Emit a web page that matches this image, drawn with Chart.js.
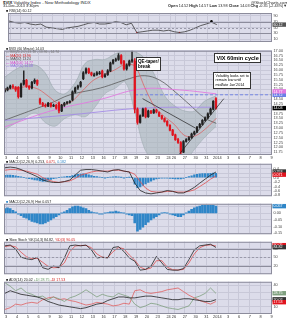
<!DOCTYPE html>
<html>
<head>
<meta charset="utf-8">
<script src="https://cdn.jsdelivr.net/npm/chart.js@4.4.1/dist/chart.umd.min.js"></script>
<style>
  body { margin: 0; background: #fff; font-family: "Liberation Sans", Arial, sans-serif; }
  #wrap { position: relative; width: 287px; height: 320px; overflow: hidden; }
  canvas { position: absolute; left: 4px; }
  .t { position: absolute; white-space: nowrap; line-height: 1; font-size: 4px; color: #222; }
  .box { position: absolute; background: #fff; border: 0.6px solid #333; font-weight: bold; color: #000; line-height: 1.2; white-space: nowrap; }
</style>
</head>
<body>
<div id="wrap">
  <canvas id="rsi" width="283" height="37" style="top:9px"></canvas>
  <canvas id="price" width="283" height="114" style="top:47px"></canvas>
  <canvas id="macd" width="283" height="40" style="top:160px"></canvas>
  <canvas id="hist" width="283" height="38" style="top:200px"></canvas>
  <canvas id="stoch" width="283" height="40" style="top:238px"></canvas>
  <canvas id="adx" width="283" height="42" style="top:278px"></canvas>

  <div class="t" style="left:3px;top:1px;font-size:4.3px"><b>$VIX</b> Volatility Index - New Methodology  INDX</div>
  <div class="t" style="left:251px;top:1px;font-size:4.3px">@StockCharts.com</div>
  <div class="t" style="left:3px;top:4.8px;font-size:3.8px">31-Dec-2013 3:30pm</div>
  <div class="t" style="left:168px;top:4.8px;font-size:3.8px"><b>Open</b> 14.52 <b>High</b> 14.57 <b>Low</b> 13.98 <b>Close</b> 14.03 <b>Chg</b> -0.35 (-2.43%)&#9660;</div>

  <div class="t" style="left:6px;top:10px;font-size:3.6px">&#9632; RSI(14) 60.12</div>

  <div class="t" style="left:6px;top:48px;font-size:3.4px">&#9632; $VIX (60 Minute) 14.03</div>
  <div class="t" style="left:6px;top:51.4px;font-size:3.4px;color:#777">&#8212; BB(20,2.0) 13.18 - 13.96 - 14.74</div>
  <div class="t" style="left:6px;top:54.8px;font-size:3.4px;color:#d02020">&#8212; MA(20) 13.96</div>
  <div class="t" style="left:6px;top:58.2px;font-size:3.4px;color:#444">&#8212; MA(50) 13.24</div>
  <div class="t" style="left:6px;top:61.6px;font-size:3.4px;color:#d040c8">&#8212; MA(100) 14.77</div>
  <div class="t" style="left:6px;top:65px;font-size:3.4px;color:#8a6ae0">&#8212; MA(200) 14.08</div>

  <div class="box" style="left:136px;top:57px;font-size:4.6px;padding:0.5px 1px">QE-taper/<br>break</div>
  <div class="box" style="left:214px;top:53px;font-size:5.6px;padding:0.5px 1.5px">VIX 60min cycle</div>
  <div class="box" style="left:213px;top:72px;font-size:3.7px;padding:1px 1.5px;font-weight:normal">Volatility looks set to<br>remain low until<br>mid/late Jan'2014</div>

  <div class="t" style="left:6px;top:161px;font-size:3.6px">&#9632; MACD(12,26,9) 0.253, <span style="color:#d02020">0.071</span>, <span style="color:#2f86c8">0.182</span></div>
  <div class="t" style="left:6px;top:201px;font-size:3.6px"><span style="color:#2f86c8">&#9632;</span> MACD(12,26,9) Hist 0.057</div>
  <div class="t" style="left:6px;top:239px;font-size:3.6px">&#9632; Slow Stoch %K(14,3) 84.82, <span style="color:#d02020">%D(3) 90.05</span></div>
  <div class="t" style="left:6px;top:279px;font-size:3.6px">&#9632; ADX(14) 20.02 <span style="color:#5f8f5f">+DI 28.75</span> <span style="color:#d02020">-DI 17.53</span></div>
</div>

<script>
// day grid of the 60 min chart (Dec 2013 - Jan 2014)
const dayLabels = ['3','4','5','6','9','10','11','12','13','16','17','18','19','20','23','24','26','27','30','31','2014','3','6','7','8','9'];
const dayStart = [0,1,2,3,4,5,6,7,8,9,10,11,12,13,14,15,15.5,16.5,17.5,18.5,19.5,20.5,21.5,22.5,23.5,24.5];
const barsPerDay = [4,4,4,4,4,4,4,4,4,4,4,4,4,4,4,2,4,4,4,4];

// candles
const open = [14.90, 14.97,15.07,15.17,15.12, 15.10,14.62,15.27,15.47, 15.17,15.07,15.37,15.47,
  14.50,14.28,14.18,14.13, 14.28,14.13,14.18,14.30, 13.88,14.18,14.28,14.33, 14.45,14.87,15.07,15.17,
  15.55,15.86,16.06,15.86, 15.70,15.76,15.82,15.95, 15.66,15.76,15.96,16.36, 16.50,16.55,16.75,16.45,
  16.06,16.26,16.46,16.46, 13.98,13.29,13.63,14.00, 13.58,13.88,13.78,13.93, 13.80,13.63,13.49,13.34,
  13.14,12.89, 12.64,12.40,12.25,11.75, 12.30,12.40,12.50,12.69, 12.79,13.04,13.19,13.39, 13.53,13.73,13.98,14.52];
const high = [15.05, 15.12,15.22,15.25,15.15, 15.15,15.32,15.96,15.52, 15.20,15.42,15.55,15.50,
  14.55,14.33,14.25,14.33, 14.30,14.24,14.22,14.35, 14.23,14.33,14.38,14.42, 14.92,15.12,15.22,15.42,
  15.92,16.12,16.10,15.90, 15.84,15.92,15.94,16.00, 15.82,16.02,16.42,16.56, 16.62,16.85,16.80,16.50,
  16.32,16.52,17.00,16.60, 14.05,13.68,14.03,14.05, 13.93,13.92,13.98,13.96, 13.84,13.66,13.52,13.38,
  13.18,12.93, 12.68,12.46,12.30,12.35, 12.45,12.55,12.74,12.84, 13.09,13.24,13.44,13.58, 13.78,14.03,14.42,14.57];
const low = [14.85, 14.92,15.02,15.05,14.90, 14.55,14.58,15.22,15.10, 15.00,15.02,15.30,15.20,
  14.22,14.12,14.08,14.10, 14.08,14.10,13.98,13.78, 13.85,14.12,14.24,14.28, 14.40,14.82,15.00,15.12,
  15.50,15.80,15.82,15.70, 15.68,15.72,15.78,15.60, 15.62,15.72,15.92,16.30, 16.45,16.50,16.30,16.00,
  16.00,16.20,16.40,13.78, 13.20,13.25,13.60,13.52, 13.55,13.74,13.75,13.78, 13.58,13.44,13.30,13.10,
  12.85,12.60, 12.36,12.20,11.65,11.72, 12.26,12.35,12.46,12.65, 12.76,13.00,13.15,13.35, 13.48,13.70,13.94,13.98];
const close = [14.97, 15.07,15.17,15.12,14.97, 14.62,15.27,15.47,15.17, 15.07,15.37,15.47,15.27,
  14.28,14.18,14.13,14.28, 14.13,14.18,14.03,13.88, 14.18,14.28,14.33,14.38, 14.87,15.07,15.17,15.37,
  15.86,16.06,15.86,15.76, 15.76,15.86,15.86,15.66, 15.76,15.96,16.36,16.50, 16.55,16.75,16.36,16.06,
  16.26,16.46,16.55,13.98, 13.29,13.63,13.98,13.58, 13.88,13.78,13.93,13.83, 13.63,13.49,13.34,13.14,
  12.89,12.64, 12.40,12.25,11.75,12.30, 12.40,12.50,12.69,12.79, 13.04,13.19,13.39,13.53, 13.73,13.98,14.38,14.03];

// overlays on the price panel (x in trading days)
const bbX = [-0.2,1.3,2.7,3.6,4.5,5.4,6.4,7.3,8.2,9.1,10.1,11,11.9,12.8,13.7,14.7,15.6,16.5,17.4,18.3,19.4];
const bbUpper = [15.61,16.16,16.26,15.86,14.97,14.77,15.37,16.36,16.55,16.55,16.85,17.0,16.95,16.6,15.76,14.62,14.13,13.88,13.88,14.38,14.67];
const bbLower = [12.89,13.39,13.78,13.29,13.09,13.49,13.68,13.58,14.08,14.77,15.07,15.37,13.78,11.9,11.4,11.4,11.3,11.3,11.9,12.5,13.09];
const ma20X = [-0.2,1,2,3,4,5,6,7,8,9,10,11,11.9,12.8,13.7,14.6,15.5,16.5,17.5,18.5,19.4];
const ma20 = [15.0,15.05,15.15,15.0,14.6,14.2,14.35,14.9,15.45,15.75,16.0,16.3,16.2,15.1,14.1,13.6,13.2,12.6,12.6,13.0,13.5];
const ma50X = [-0.2,2.9,4.1,5.9,8.7,11.4,12.8,14.2,15.6,17,18.3,19.4];
const ma50 = [13.39,14.03,14.28,14.72,15.07,15.56,15.71,15.47,14.87,14.18,13.53,13.24];
const ma100X = [-0.2,4.1,8.7,12.4,16.0,19.4];
const ma100 = [13.04,13.88,14.48,15.02,14.97,14.77];
const ma200X = [-0.2,5.9,12.6,19.4];
const ma200 = [13.39,13.68,14.03,14.08];
const resistX = [11.9,24.55], resist = [14.72,14.72];
const downTrendX = [12.6,17.5], downTrend = [14.52,12.99];
const upTrendX = [16.0,20.1], upTrend = [11.65,14.52];

// indicators (every second bar for lines, every bar for histograms)
const rsi = [72.7,67.3,64.7,67.3,62,59.3,62,51.3,48.7,46,43.3,48.7,51.3,54,59.3,64.7,67.3,62,62,64.7,
  70,67.3,59.3,64.7,32.7,35.3,38,40.7,40.7,38,40.7,35.3,32.7,35.3,40.7,48.7,56.7,62,68,60];
const macd = [0.44,0.47,0.44,0.36,0.25,0.15,0.04,-0.11,-0.18,-0.22,-0.22,-0.18,-0.11,0.11,0.33,0.36,0.36,0.33,0.29,0.25,
  0.33,0.36,0.29,0.25,-0.25,-0.58,-0.69,-0.73,-0.69,-0.65,-0.58,-0.62,-0.69,-0.69,-0.58,-0.44,-0.25,-0.07,0.11,0.25];
const signal = [0.33,0.36,0.36,0.33,0.29,0.22,0.15,0.0,-0.11,-0.18,-0.22,-0.18,-0.15,-0.04,0.11,0.18,0.25,0.29,0.29,0.29,
  0.33,0.33,0.29,0.25,0.15,-0.18,-0.47,-0.62,-0.65,-0.65,-0.62,-0.62,-0.65,-0.65,-0.62,-0.55,-0.40,-0.25,-0.07,0.07];
const macdHist = [0.10,0.11,0.11,0.10,0.08, 0.05,0.03,0.0,-0.02, -0.05,-0.07,-0.10,-0.12, -0.15,-0.17,-0.16,-0.12,
  -0.08,-0.05,-0.02,0.0, 0.02,0.03,0.05,0.06, 0.09,0.12,0.15,0.16, 0.17,0.15,0.12,0.09, 0.06,0.04,0.02,0.0,
  -0.01,0.0,0.02,0.03, 0.04,0.03,0.01,-0.01, 0.0,0.01,0.0,-0.30, -0.45,-0.42,-0.35,-0.28, -0.22,-0.16,-0.10,-0.06,
  -0.04,-0.02,-0.02,-0.03, -0.04,-0.05, -0.06,-0.06,-0.06,-0.04, 0.0,0.04,0.08,0.12, 0.15,0.17,0.18,0.18, 0.18,0.19,0.20,0.19];
const hist2 = [0.037,0.043,0.037,0.024,0.012, -0.006,-0.018,-0.030,-0.037, -0.049,-0.061,-0.067,-0.073,
  -0.079,-0.079,-0.073,-0.061, -0.049,-0.037,-0.024,-0.012, 0.001,0.012,0.024,0.037, 0.049,0.055,0.055,0.049,
  0.043,0.037,0.024,0.012, 0.006,0.002,-0.006,-0.006, 0.001,0.006,0.012,0.012, 0.018,0.012,0.006,0.001,
  -0.006,-0.012,-0.018,-0.073, -0.134,-0.122,-0.104,-0.085, -0.067,-0.049,-0.037,-0.024, -0.012,0.001,0.006,0.001,
  -0.006,-0.012, -0.018,-0.024,-0.024,-0.012, 0.001,0.018,0.030,0.043, 0.049,0.055,0.061,0.061, 0.061,0.061,0.061,0.055];
const stochK = [90.6,93.4,79,50.3,44.6,41.7,50.3,13,7.2,18.7,13,47.5,90.6,93.4,90.6,93.4,76.2,47.5,50.3,47.5,
  84.8,87.7,70.5,47.5,36,4.4,7.2,18.7,53.2,30.2,7.2,4.4,4.4,10.1,41.7,76.2,90.6,93.4,96.3,84.8];
const stochD = [88,91,87,68,52,45,46,32,18,13,14,30,70,90,92,92,84,62,50,49,
  70,85,80,58,40,15,7,12,38,38,15,6,5,7,30,62,84,92,94,90];
const adx = [28.8,32.5,30,27.5,26.3,25,23.8,21.3,17.5,15,12.5,11.3,10,8.8,7.5,8.8,11.3,13.8,15,18.8,
  21.3,23.8,23.8,22.5,22.5,23.8,25,25,23.8,22.5,21.3,20,20,21.3,21.3,20,18.8,17.5,17.5,20];
const plusDI = [43.8,38.8,32.5,36.3,30,27.5,23.8,25,20,23.8,21.3,17.5,22.5,25,28.8,33.8,28.8,23.8,27.5,25,
  23.8,28.8,26.3,23.8,13.8,8.8,11.3,15,13.8,11.3,8.8,7.5,6.3,8.8,11.3,22.5,25,28.8,36.3,28.8];
const minusDI = [6.3,8.8,13.8,12.5,15,16.3,15,20,22.5,23.8,20,21.3,18.8,17.5,15,12.5,13.8,16.3,15,13.8,
  11.3,12.5,15,13.8,32.5,33.8,30,28.8,30,31.3,33.8,35,36.3,31.3,26.3,22.5,18.8,16.3,13.8,17.5];

// tick labels
const rsiTicks = [10,30,50,70,90];
const priceTicks = [11.75,12,12.25,12.5,12.75,13,13.25,13.5,13.75,14,14.25,14.5,14.75,15,15.25,15.5,15.75,16,16.25,16.5,16.75,17];
const macdTicks = [-0.8,-0.6,-0.4,-0.2,0,0.2,0.4];
const histTicks = [-0.15,-0.1,-0.05,0,0.05];
const stochTicks = [20,50,80];
const adxTicks = [10,20,30,40];

// bar positions on the day axis
const candleX = [-0.125];
barsPerDay.forEach((n, d) => { for (let k = 0; k < n; k++) candleX.push(dayStart[d] + (k + 0.5) * 0.25); });
const lineX = candleX.filter((_, i) => i % 2 === 0);

const pts = (xs, ys) => ys.map((y, i) => ({ x: xs[i], y: y }));
const RED = '#e0141e', BLUE = '#2f86c8', GRID = '#c8c8d8';

// lavender panel, frame, reference lines and value tags
Chart.register({
  id: 'panel',
  beforeDraw(c) {
    const a = c.chartArea, g = c.ctx;
    g.save(); g.fillStyle = '#dcdcea'; g.fillRect(a.left, a.top, a.width, a.height); g.restore();
  },
  afterDraw(c, args, o) {
    const a = c.chartArea, g = c.ctx, y = c.scales.y;
    g.save();
    (o.refs || []).forEach(r => {
      const p = Math.round(y.getPixelForValue(r.v)) + 0.5;
      g.strokeStyle = r.color || '#888'; g.lineWidth = 1; g.setLineDash(r.dash || []);
      g.beginPath(); g.moveTo(a.left, p); g.lineTo(a.right, p); g.stroke();
    });
    g.setLineDash([]);
    g.strokeStyle = '#8c8c9c'; g.lineWidth = 1;
    g.strokeRect(a.left + 0.5, a.top + 0.5, a.width - 1, a.height - 1);
    g.font = '3.6px "Liberation Sans", Arial';
    g.textBaseline = 'middle';
    (o.tags || []).forEach(t => {
      const p = y.getPixelForValue(t.v);
      g.fillStyle = t.bg; g.fillRect(a.right + 0.5, p - 2.2, 13.5, 4.4);
      g.fillStyle = t.fg || '#fff'; g.fillText(t.t, a.right + 1.5, p + 0.2);
    });
    g.restore();
  }
});

function xScale(labels) {
  return {
    type: 'linear', min: -0.2, max: 24.55, offset: false,
    afterBuildTicks: s => { s.ticks = dayStart.map(v => ({ value: v })); },
    grid: { color: GRID, drawTicks: false, offset: false },
    border: { display: false },
    ticks: {
      display: labels, autoSkip: false, maxRotation: 0, padding: 1,
      font: { size: 3.9, family: '"Liberation Sans", Arial' }, color: '#333',
      callback: (v, i) => dayLabels[i]
    },
    afterFit: s => { s.height = labels ? 6 : 0; }
  };
}

function yScale(min, max, ticks, fmt) {
  return {
    position: 'right', min: min, max: max,
    afterBuildTicks: s => { s.ticks = ticks.map(v => ({ value: v })); },
    grid: { color: GRID, drawTicks: false },
    border: { display: false },
    ticks: { autoSkip: false, padding: 1.5, color: '#444', font: { size: 3.8, family: '"Liberation Sans", Arial' }, callback: fmt },
    afterFit: s => { s.width = 15; }
  };
}

function line(xs, ys, color, width, extra) {
  return Object.assign({ type: 'line', data: pts(xs, ys), borderColor: color, borderWidth: width,
    pointRadius: 0, fill: false, tension: 0 }, extra || {});
}

function make(id, datasets, y, labels, panel) {
  return new Chart(document.getElementById(id), {
    type: 'line',
    data: { datasets: datasets },
    options: {
      responsive: false, animation: false, events: [],
      layout: { padding: 0 },
      plugins: { legend: { display: false }, tooltip: { enabled: false }, panel: panel || {} },
      scales: { x: xScale(labels), y: y }
    }
  });
}

// RSI
make('rsi', [
  line(lineX, rsi, '#3a3a3a', 0.8),
  { type: 'scatter', data: [{ x: lineX[24], y: 31 }, { x: lineX[32], y: 31 }], pointStyle: 'triangle', pointRadius: 1.6, backgroundColor: RED, borderWidth: 0 },
  { type: 'scatter', data: [{ x: lineX[38], y: 71 }], pointRadius: 1.3, backgroundColor: '#000', borderWidth: 0 }
], yScale(0, 100, rsiTicks, v => v), false,
  { refs: [{ v: 70, color: '#8c8c9c' }, { v: 30, color: '#8c8c9c' }, { v: 50, color: '#9a9aaa', dash: [2, 2] }],
    tags: [{ v: rsi[39], bg: '#555', t: '60.12' }] });

// price panel
const candleColor = close.map((c, i) => c < open[i] ? RED : '#222');
make('price', [
  line(bbX, bbUpper, 'rgba(140,155,160,0.9)', 0.5, { fill: '+1', backgroundColor: 'rgba(168,182,186,0.6)', tension: 0.35, order: 10 }),
  line(bbX, bbLower, 'rgba(140,155,160,0.9)', 0.5, { tension: 0.35, order: 10 }),
  line(ma200X, ma200, '#a58ce6', 0.9, { tension: 0.4, order: 6 }),
  line(ma100X, ma100, '#e27ae0', 0.9, { tension: 0.4, order: 6 }),
  line(ma50X, ma50, '#5a5a5a', 0.8, { tension: 0.4, order: 6 }),
  line(ma20X, ma20, '#e05a5a', 0.7, { tension: 0.3, order: 5 }),
  line(resistX, resist, '#6a7fe6', 0.9, { borderDash: [3, 2], order: 5 }),
  { type: 'bar', data: candleX.map((x, i) => ({ x: x, y: [low[i], high[i]] })), backgroundColor: candleColor,
    barThickness: 0.8, grouped: false, order: 3 },
  { type: 'bar', data: candleX.map((x, i) => ({ x: x, y: [open[i], close[i]] })), backgroundColor: candleColor,
    barThickness: 1.6, grouped: false, order: 2 },
  line(downTrendX, downTrend, '#222', 0.7, { order: 1 }),
  line(upTrendX, upTrend, '#222', 0.7, { order: 1 })
], yScale(11.6, 17.0, priceTicks, v => v.toFixed(2)), true,
  { tags: [{ v: 14.72, bg: '#6a7fe6', t: '14.72' }, { v: 14.9, bg: '#e27ae0', t: '14.77' }, { v: 14.03, bg: '#000', t: '14.03' }] });

// MACD
make('macd', [
  { type: 'bar', data: pts(candleX, macdHist), backgroundColor: BLUE, barThickness: 1.6, grouped: false, order: 3 },
  line(lineX, macd, '#222', 0.8, { order: 1 }),
  line(lineX, signal, '#e05050', 0.8, { order: 2 })
], yScale(-0.836, 0.618, macdTicks, v => v.toFixed(1)), false,
  { tags: [{ v: 0.27, bg: '#333', t: '0.253' }, { v: 0.13, bg: RED, t: '0.071' }] });

// MACD histogram
make('hist', [
  { type: 'bar', data: pts(candleX, hist2), backgroundColor: BLUE, barThickness: 2, grouped: false }
], yScale(-0.158, 0.073, histTicks, v => v.toFixed(2)), false,
  { tags: [{ v: 0.055, bg: BLUE, t: '0.057' }] });

// Slow stochastics
make('stoch', [
  line(lineX, stochK, '#222', 0.8, { order: 1 }),
  line(lineX, stochD, '#e05050', 0.8, { order: 2 })
], yScale(-10, 105, stochTicks, v => v), false,
  { refs: [{ v: 80, color: '#8c8c9c' }, { v: 20, color: '#8c8c9c' }, { v: 50, color: '#9a9aaa', dash: [2, 2] }],
    tags: [{ v: 93, bg: RED, t: '90.05' }, { v: 86, bg: '#333', t: '84.82' }] });

// ADX
make('adx', [
  line(lineX, adx, '#222', 0.8, { order: 1 }),
  line(lineX, plusDI, '#7fa07f', 0.8, { order: 2 }),
  line(lineX, minusDI, '#e06060', 0.8, { order: 3 })
], yScale(0, 45, adxTicks, v => v), true,
  { tags: [{ v: 29, bg: '#7fa07f', t: '28.75' }, { v: 20.5, bg: '#333', t: '20.02' }, { v: 16.5, bg: RED, t: '17.53' }] });
</script>
</body>
</html>
